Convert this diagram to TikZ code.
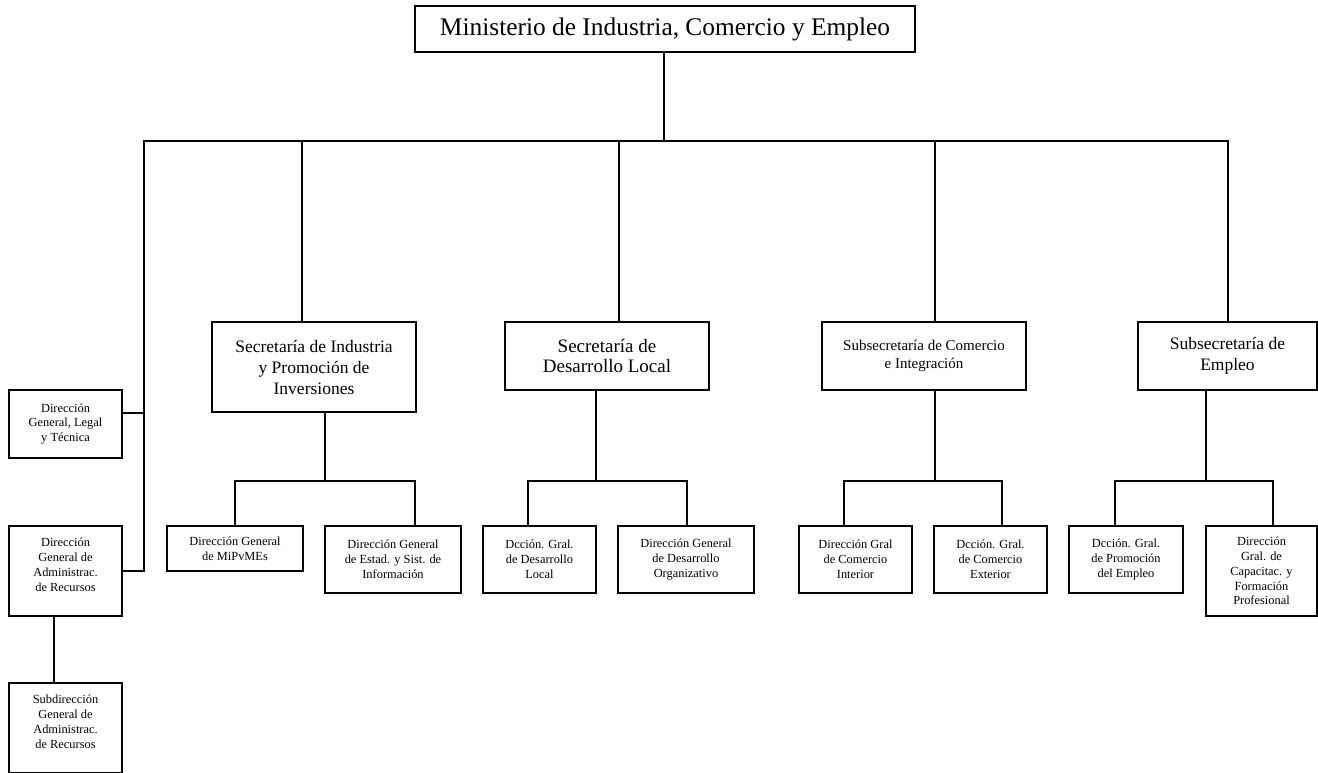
\documentclass[tikz,border=0pt]{standalone}
\usepackage{fontspec}
\setmainfont{Liberation Serif}
\begin{document}
\begin{tikzpicture}[x=1pt,y=-1pt,
  box/.style={draw, line width=2pt, rectangle, inner sep=0pt, align=center},
  big/.style={box, font=\fontsize{17.5}{21}\selectfont},
  small/.style={box, font=\fontsize{12.4}{14.8}\selectfont},
  conn/.style={line width=2pt}]
\useasboundingbox (0,0) rectangle (1318,772);
% top
\node[box, minimum width=500pt, minimum height=46pt, font=\fontsize{25.4}{30}\selectfont] (min) at (665,29) {Ministerio de Industria, Comercio y Empleo};
% left column
\node[small, minimum width=113pt, minimum height=68pt] (dglt) at (65.5,424) {Dirección\\General, Legal\\y Técnica};
\node[small, minimum width=113pt, minimum height=90pt] (dgar) at (65.5,571) {Dirección\\General de\\Administrac.\\de Recursos\\[-2pt]};
\node[small, minimum width=113pt, minimum height=90pt] (sub) at (65.5,728) {Subdirección\\General de\\Administrac.\\de Recursos\\[-2pt]};
% secretarias
\node[big, minimum width=204pt, minimum height=90pt] (sip) at (314,367) {Secretaría de Industria\\y Promoción de\\Inversiones};
\node[box, minimum width=204pt, minimum height=68pt, font=\fontsize{19}{20.5}\selectfont] (sdl) at (607,356) {Secretaría de\\Desarrollo Local};
\node[box, minimum width=204pt, minimum height=68pt, font=\fontsize{15}{18.3}\selectfont] (sci) at (924,356) {Subsecretaría de Comercio\\e Integración};
\node[big, minimum width=179pt, minimum height=68pt] (se) at (1227.5,356) {Subsecretaría de\\Empleo};
% direcciones
\node[small, minimum width=136pt, minimum height=45pt] (mip) at (235,548.5) {Dirección General\\de MiPvMEs};
\node[small, minimum width=136pt, minimum height=67pt] (est) at (393,559.5) {Dirección General\\de Estad. y Sist. de\\Información};
\node[small, minimum width=113pt, minimum height=67pt] (ddl) at (539.5,559.5) {Dcción. Gral.\\de Desarrollo\\Local};
\node[small, minimum width=136pt, minimum height=67pt] (ddo) at (686,559.5) {Dirección General\\de Desarrollo\\Organizativo};
\node[small, minimum width=113pt, minimum height=67pt] (dci) at (855.5,559.5) {Dirección Gral\\de Comercio\\Interior};
\node[small, minimum width=113pt, minimum height=67pt] (dce) at (990.5,559.5) {Dcción. Gral.\\de Comercio\\Exterior};
\node[small, minimum width=114pt, minimum height=67pt] (dpe) at (1126,559.5) {Dcción. Gral.\\de Promoción\\del Empleo};
\node[small, minimum width=111pt, minimum height=90pt] (dcf) at (1261.5,571) {Dirección\\Gral. de\\Capacitac. y\\Formación\\Profesional};
% bus coordinates
\coordinate (lb) at (144,141);
\coordinate (rb) at (1228,141);
\coordinate (j1) at (325,481);
\coordinate (j2) at (596,481);
\coordinate (j3) at (935,481);
\coordinate (j4) at (1206,481);
% main connectors
\draw[conn] ([xshift=-1pt]min.south) -- ([xshift=-1pt]min.south |- lb);
\draw[conn] ([yshift=11pt]dglt.east) -| (lb) -- (rb) -- (rb |- se.north);
\draw[conn] (dgar.east) -| (lb);
\draw[conn] ([xshift=-12pt]sip.north) -- ([xshift=-12pt]sip.north |- lb);
\draw[conn] ([xshift=12pt]sdl.north) -- ([xshift=12pt]sdl.north |- lb);
\draw[conn] ([xshift=11pt]sci.north) -- ([xshift=11pt]sci.north |- lb);
\draw[conn] ([xshift=-11.5pt]dgar.south) -- ([xshift=-11.5pt]sub.north);
% group 1
\draw[conn] ([xshift=11pt]sip.south) -- (j1);
\draw[conn] (mip.north) |- (j1) -| ([xshift=22pt]est.north);
% group 2
\draw[conn] ([xshift=-11pt]sdl.south) -- (j2);
\draw[conn] ([xshift=-11.5pt]ddl.north) |- (j2) -| ([xshift=1pt]ddo.north);
% group 3
\draw[conn] ([xshift=11pt]sci.south) -- (j3);
\draw[conn] ([xshift=-11.5pt]dci.north) |- (j3) -| ([xshift=11.5pt]dce.north);
% group 4
\draw[conn] ([xshift=-21.5pt]se.south) -- (j4);
\draw[conn] ([xshift=-11pt]dpe.north) |- (j4) -| ([xshift=11.5pt]dcf.north);
\end{tikzpicture}
\end{document}
